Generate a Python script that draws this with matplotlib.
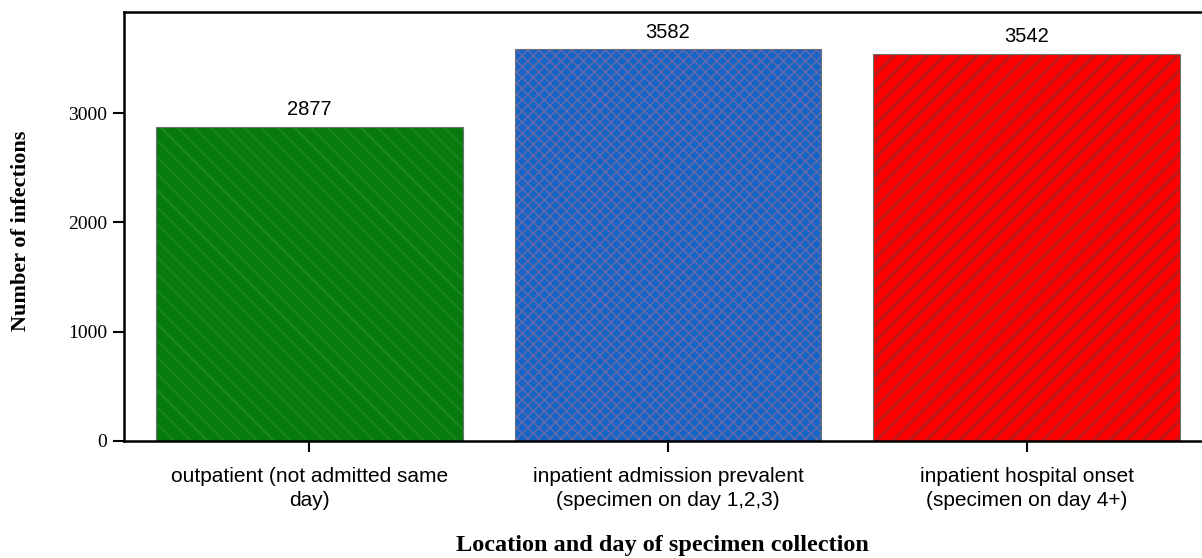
import matplotlib.pyplot as plt
import matplotlib as mpl

# datos del gráfico
categorias = ['outpatient (not admitted same\nday)',
              'inpatient admission prevalent\n(specimen on day 1,2,3)',
              'inpatient hospital onset\n(specimen on day 4+)']
infecciones = [2877, 3582, 3542]
colores = ['#067a0c', '#1565c8', '#ff0000']
tramas = ['\\\\', 'xxx', '//']
color_trama = ['#188620', '#6a6aa8', '#c41414']
grosor_trama = [1.6, 1.0, 2.6]

fig = plt.figure(figsize=(12.02, 5.58), dpi=100)
ax = fig.add_axes([0.1032, 0.2097, 0.9, 0.7688])

pos = list(range(len(categorias)))
for i in pos:
    mpl.rcParams['hatch.linewidth'] = grosor_trama[i]
    ax.bar(i, infecciones[i], width=0.855, color=colores[i], hatch=tramas[i],
           edgecolor=color_trama[i], linewidth=0)
    ax.bar(i, infecciones[i], width=0.855, fill=False, edgecolor='#707070', linewidth=0.8)
    ax.text(i, infecciones[i] + 70, str(infecciones[i]), ha='center', va='bottom',
            fontsize=14.5, family='Liberation Sans')

ax.set_xlim(-0.517, 2.5)
ax.set_ylim(0, 3925)
ax.set_yticks([0, 1000, 2000, 3000])
ax.set_xticks(pos)
ax.set_xticklabels(categorias, family='Liberation Sans', fontsize=15, linespacing=1.3)
for lbl in ax.get_yticklabels():
    lbl.set_family('Liberation Serif')
    lbl.set_fontsize(14)

ax.spines['right'].set_visible(False)
for s in ['left', 'bottom', 'top']:
    ax.spines[s].set_linewidth(1.8)
ax.tick_params(axis='both', length=8, width=1.5)
ax.tick_params(axis='x', pad=11)
ax.tick_params(axis='y', pad=4)

ax.set_ylabel('Number of infections', family='Liberation Serif', fontweight='bold',
              fontsize=16)
ax.yaxis.set_label_coords(-0.086, 0.49)
ax.set_xlabel('Location and day of specimen collection', family='Liberation Serif',
              fontweight='bold', fontsize=17.5)
ax.xaxis.set_label_coords(0.498, -0.219)

plt.savefig('out.png', dpi=100)
